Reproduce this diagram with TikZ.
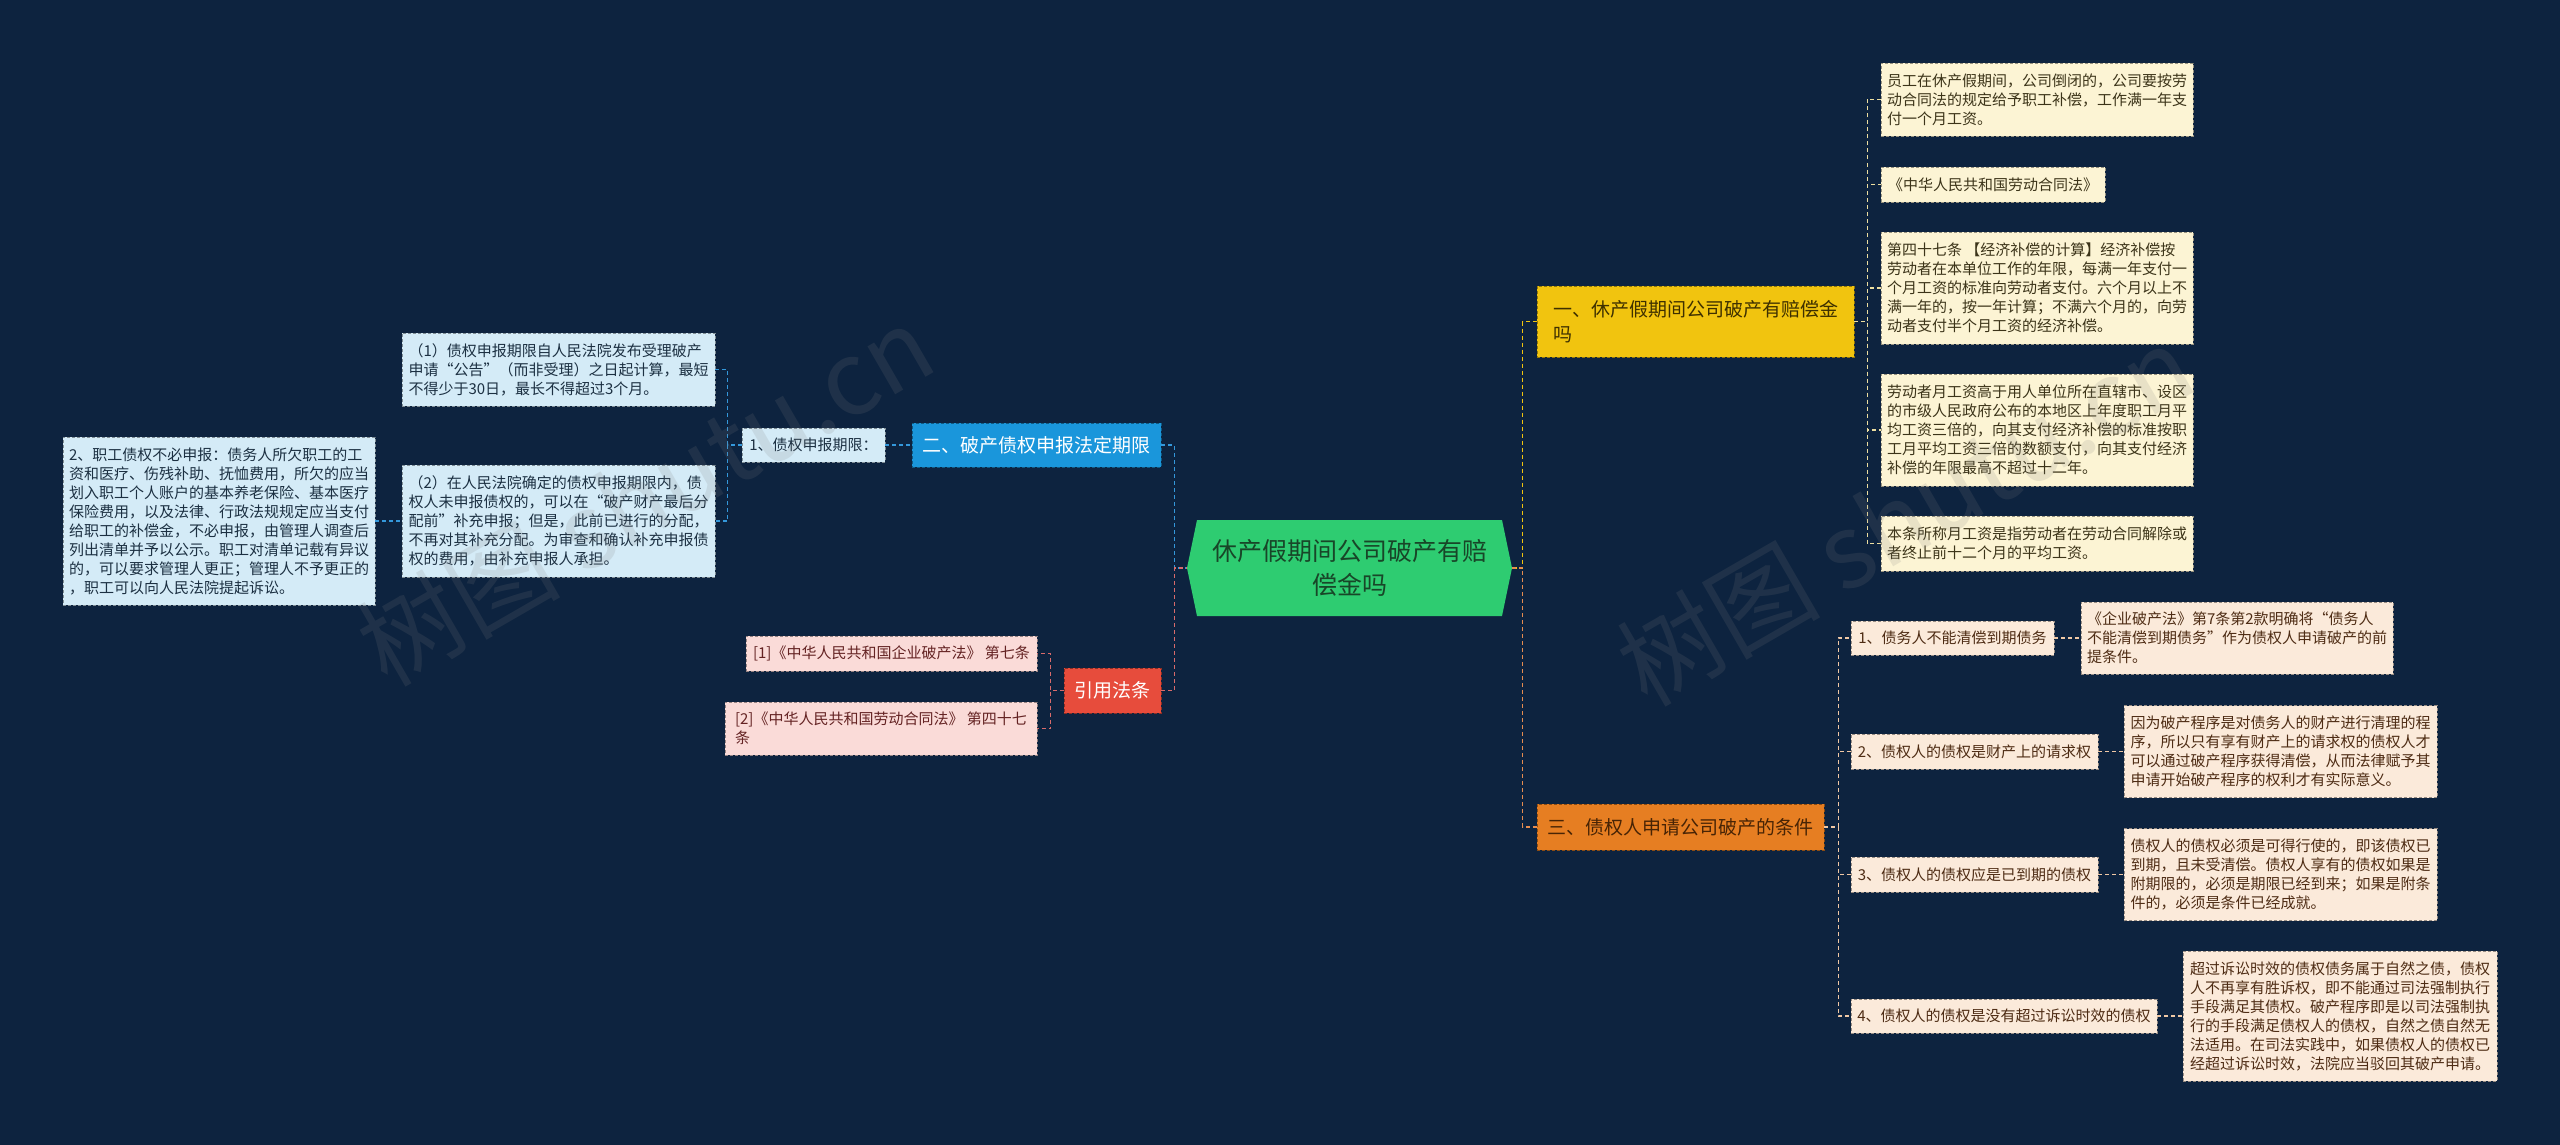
\documentclass[tikz,border=0pt]{standalone}
\usepackage{fontspec}
\setmainfont{Noto Sans CJK SC}
\definecolor{bgcol}{RGB}{13,35,63}
\definecolor{rootfill}{RGB}{46,204,113}
\definecolor{roottext}{RGB}{24,70,40}
\definecolor{yfill}{RGB}{241,196,15}
\definecolor{ytext}{RGB}{62,48,0}
\definecolor{yleaf}{RGB}{252,244,212}
\definecolor{yleaftext}{RGB}{60,52,25}
\definecolor{ofill}{RGB}{230,126,34}
\definecolor{otext}{RGB}{72,36,5}
\definecolor{oleaf}{RGB}{251,234,218}
\definecolor{oleaftext}{RGB}{78,44,20}
\definecolor{bfill}{RGB}{26,150,219}
\definecolor{bleaf}{RGB}{212,235,247}
\definecolor{bleaftext}{RGB}{28,48,66}
\definecolor{rfill}{RGB}{231,76,60}
\definecolor{rleaf}{RGB}{250,219,216}
\definecolor{rleaftext}{RGB}{100,35,35}
\definecolor{blinkcol}{RGB}{52,152,219}
\definecolor{rlinkcol}{RGB}{217,107,107}
\definecolor{ylinkcol}{RGB}{241,196,15}
\definecolor{olinkcol}{RGB}{229,140,80}
\definecolor{yleaflink}{RGB}{236,222,160}
\definecolor{oleaflink}{RGB}{240,200,165}

\begin{document}
\begin{tikzpicture}[x=1pt,y=-1pt,
    box/.style={draw=#1!60!black, fill=#1, dash pattern=on 3pt off 2pt, line width=0.8pt, inner xsep=6pt, inner ysep=0pt, align=left},
    small/.style={font=\fontsize{15}{19}\selectfont},
    big/.style={font=\fontsize{19}{25}\selectfont, inner xsep=10pt},
    link/.style={draw=#1, line width=1.6pt, dash pattern=on 4pt off 3pt},
    watermark/.style={font=\fontsize{102}{102}\selectfont, text=gray, opacity=0.16, rotate=30}]
                \fill[bgcol] (0,0) rectangle (2560,1145);
                \useasboundingbox (0,0) rectangle (2560,1145);

                \fill[rootfill] (1187,568) -- (1197,520) -- (1502,520) -- (1512,568) -- (1502,616) -- (1197,616) -- cycle;
                \node[font=\fontsize{25}{34}\selectfont, text=roottext, align=center, minimum width=325pt, minimum height=96pt, inner sep=0pt] (root) at (1349.5,568) {休产假期间公司破产有赔\\偿金吗};

                \node[box=yfill, big, text=ytext, minimum width=317pt, minimum height=71pt] (b1) at (1695.5,321.5) {一、休产假期间公司破产有赔偿金\\吗};
                \node[box=yleaf, small, text=yleaftext, minimum width=312pt, minimum height=73pt] (y1) at (2037,99.5) {员工在休产假期间，公司倒闭的，公司要按劳\\动合同法的规定给予职工补偿，工作满一年支\\付一个月工资。};
                \node[box=yleaf, small, text=yleaftext, minimum width=224pt, minimum height=35pt] (y2) at (1993,184.5) {《中华人民共和国劳动合同法》};
                \node[box=yleaf, small, text=yleaftext, minimum width=312pt, minimum height=112pt] (y3) at (2037,288) {第四十七条 【经济补偿的计算】经济补偿按\\劳动者在本单位工作的年限，每满一年支付一\\个月工资的标准向劳动者支付。六个月以上不\\满一年的，按一年计算；不满六个月的，向劳\\动者支付半个月工资的经济补偿。};
                \node[box=yleaf, small, text=yleaftext, minimum width=312pt, minimum height=112pt] (y4) at (2037,430) {劳动者月工资高于用人单位所在直辖市、设区\\的市级人民政府公布的本地区上年度职工月平\\均工资三倍的，向其支付经济补偿的标准按职\\工月平均工资三倍的数额支付，向其支付经济\\补偿的年限最高不超过十二年。};
                \node[box=yleaf, small, text=yleaftext, minimum width=312pt, minimum height=55pt] (y5) at (2037,543.5) {本条所称月工资是指劳动者在劳动合同解除或\\者终止前十二个月的平均工资。};

                \node[box=ofill, big, text=otext, minimum width=287pt, minimum height=46pt] (b3) at (1680.5,827) {三、债权人申请公司破产的条件};
                \node[box=oleaf, small, text=oleaftext, minimum width=203pt, minimum height=34pt] (s1) at (1952.5,638) {1、债务人不能清偿到期债务};
                \node[box=oleaf, small, text=oleaftext, minimum width=247pt, minimum height=35pt] (s2) at (1974.5,751.5) {2、债权人的债权是财产上的请求权};
                \node[box=oleaf, small, text=oleaftext, minimum width=247pt, minimum height=35pt] (s3) at (1974.5,874.5) {3、债权人的债权应是已到期的债权};
                \node[box=oleaf, small, text=oleaftext, minimum width=306pt, minimum height=34pt] (s4) at (2004,1016) {4、债权人的债权是没有超过诉讼时效的债权};
                \node[box=oleaf, small, text=oleaftext, minimum width=312pt, minimum height=72pt] (d1) at (2237,638) {《企业破产法》第7条第2款明确将“债务人\\不能清偿到期债务”作为债权人申请破产的前\\提条件。};
                \node[box=oleaf, small, text=oleaftext, minimum width=313pt, minimum height=92pt] (d2) at (2280.5,751.5) {因为破产程序是对债务人的财产进行清理的程\\序，所以只有享有财产上的请求权的债权人才\\可以通过破产程序获得清偿，从而法律赋予其\\申请开始破产程序的权利才有实际意义。};
                \node[box=oleaf, small, text=oleaftext, minimum width=313pt, minimum height=92pt] (d3) at (2280.5,874.5) {债权人的债权必须是可得行使的，即该债权已\\到期，且未受清偿。债权人享有的债权如果是\\附期限的，必须是期限已经到来；如果是附条\\件的，必须是条件已经成就。};
                \node[box=oleaf, small, text=oleaftext, minimum width=314pt, minimum height=130pt] (d4) at (2340,1016) {超过诉讼时效的债权债务属于自然之债，债权\\人不再享有胜诉权，即不能通过司法强制执行\\手段满足其债权。破产程序即是以司法强制执\\行的手段满足债权人的债权，自然之债自然无\\法适用。在司法实践中，如果债权人的债权已\\经超过诉讼时效，法院应当驳回其破产申请。};

                \node[box=bfill, big, text=white, minimum width=249pt, minimum height=44pt] (b2) at (1036.5,445) {二、破产债权申报法定期限};
                \node[box=bleaf, small, text=bleaftext, minimum width=143pt, minimum height=34pt] (k1) at (813.5,445) {1、债权申报期限：};
                \node[box=bleaf, small, text=bleaftext, minimum width=313pt, minimum height=73pt] (p1) at (558.5,369.5) {（1）债权申报期限自人民法院发布受理破产\\申请“公告”（而非受理）之日起计算，最短\\不得少于30日，最长不得超过3个月。};
                \node[box=bleaf, small, text=bleaftext, minimum width=313pt, minimum height=112pt] (p2) at (558.5,521) {（2）在人民法院确定的债权申报期限内，债\\权人未申报债权的，可以在“破产财产最后分\\配前”补充申报；但是，此前已进行的分配，\\不再对其补充分配。为审查和确认补充申报债\\权的费用，由补充申报人承担。};
                \node[box=bleaf, small, text=bleaftext, minimum width=312pt, minimum height=168pt] (e2) at (219,521) {2、职工债权不必申报：债务人所欠职工的工\\资和医疗、伤残补助、抚恤费用，所欠的应当\\划入职工个人账户的基本养老保险、基本医疗\\保险费用，以及法律、行政法规规定应当支付\\给职工的补偿金，不必申报，由管理人调查后\\列出清单并予以公示。职工对清单记载有异议\\的，可以要求管理人更正；管理人不予更正的\\，职工可以向人民法院提起诉讼。};

                \node[box=rfill, big, text=white, minimum width=97pt, minimum height=45pt] (rf) at (1112.5,690.5) {引用法条};
                \node[box=rleaf, small, text=rleaftext, minimum width=291pt, minimum height=35pt] (r1) at (891.5,653.5) {[1]《中华人民共和国企业破产法》 第七条};
                \node[box=rleaf, small, text=rleaftext, minimum width=312pt, minimum height=53pt] (r2) at (881,728.5) {[2]《中华人民共和国劳动合同法》 第四十七\\条};

                \draw[link=blinkcol] (b2.east) -- ++(13,0) |- (root.west);
                \draw[link=rlinkcol] (rf.east) -- ++(13,0) |- (root.west);
                \draw[link=ylinkcol] (b1.west) -- ++(-14,0) |- (root.east);
                \draw[link=olinkcol] (b3.west) -- ++(-14,0) |- (root.east);
                \foreach \n in {y1,y2,y3,y4,y5}
                    \draw[link=yleaflink] (b1.east) -- ++(13,0) |- (\n.west);
                \foreach \n in {s1,s2,s3,s4}
                    \draw[link=oleaflink] (b3.east) -- ++(14,0) |- (\n.west);
                \foreach \a/\b in {s1/d1,s2/d2,s3/d3,s4/d4}
                    \draw[link=oleaflink] (\a.east) -- (\b.west);
                \draw[link=blinkcol] (k1.east) -- (b2.west);
                \foreach \n in {p1,p2}
                    \draw[link=blinkcol] (k1.west) -- ++(-14,0) |- (\n.east);
                \draw[link=blinkcol] (e2.east) -- (p2.west);
                \foreach \n in {r1,r2}
                    \draw[link=rlinkcol] (rf.west) -- ++(-13,0) |- (\n.east);

                \node[watermark] (wm1) at (645,495) {树图 shutu.cn};
                \node[watermark] (wm2) at (1905,515) {树图 shutu.cn};
            \end{tikzpicture}
\end{document}
